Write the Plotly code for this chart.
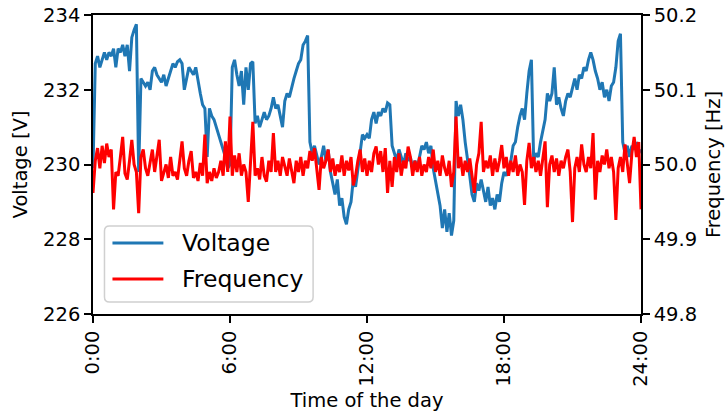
import plotly.graph_objects as go

# Sample times: one reading every 6 minutes over the day (hours)
hours = [m / 60 for m in range(0, 1441, 6)]

# Mains voltage [V]
voltage = [
    229.9, 232.7, 232.9, 232.6, 232.8, 233.0, 232.8, 233.0, 232.9, 233.1,
    232.6, 233.1, 233.0, 233.2, 232.9, 233.2, 232.5, 233.4, 233.6, 233.75,
    229.8, 232.3, 232.2, 232.1, 232.2, 232.0, 232.5, 232.6, 232.4, 232.3,
    232.2, 232.4, 232.1, 232.3, 232.5, 232.7, 232.6, 232.75, 232.8, 232.7,
    232.0, 232.3, 232.6, 232.5, 232.4, 232.6, 232.2, 231.9, 231.6, 231.5,
    230.2, 231.5, 231.3, 231.2, 231.0, 230.8, 230.6, 230.4, 230.2, 229.9,
    230.0, 232.6, 232.8, 232.4, 232.1, 232.5, 231.6, 232.6, 232.0, 232.7,
    232.75, 231.1, 231.3, 231.0, 231.2, 231.4, 231.2, 231.3, 231.5, 231.8,
    231.5, 231.6, 231.3, 231.0, 231.7, 231.9, 231.8, 232.1, 232.3, 232.5,
    232.7, 232.8, 233.2, 233.3, 233.45, 230.6, 230.3, 230.5, 230.2, 230.0,
    230.2, 230.5, 230.1, 230.4, 229.8, 229.5, 229.2, 229.6, 228.9, 229.1,
    228.6, 228.4, 228.8, 229.0, 229.6, 229.4, 229.9, 230.4, 230.8, 230.7,
    230.8, 230.7, 231.2, 231.4, 231.1, 231.4, 231.3, 231.5, 231.4, 231.65,
    231.6, 230.5, 230.3, 230.1, 230.4, 230.2, 230.0, 230.3, 230.1, 230.2,
    229.9, 230.1, 229.9, 230.2, 230.5, 230.4, 230.6, 230.3, 230.5, 229.9,
    229.6, 229.3, 228.9, 228.3, 228.8, 228.2, 228.7, 228.1, 228.5, 231.7,
    231.3, 231.6, 231.2, 230.6, 230.2, 229.7, 229.2, 229.0, 229.5, 229.3,
    229.6, 229.3, 229.0, 229.4, 228.9, 229.1, 228.8, 229.2, 229.0, 229.5,
    229.8, 229.7, 229.9, 230.1, 230.5, 230.6, 231.0, 231.3, 231.5, 231.2,
    231.9, 232.5, 232.8, 230.1, 230.3, 230.2, 230.6, 230.9, 231.2, 231.9,
    231.7, 231.9, 232.6, 231.6, 231.8, 231.5, 231.3, 231.7, 231.9, 231.8,
    232.1, 232.3, 232.0, 232.4, 232.3, 232.6, 232.5, 232.8, 233.0, 232.8,
    232.5, 232.3, 232.0, 232.2, 231.8, 232.0, 231.7, 232.1, 232.2, 232.6,
    233.3, 233.5, 230.6, 230.3, 230.5, 230.2, 230.5, 230.4, 230.6, 230.3,
    230.4,
]

# Grid frequency [Hz]
frequency = [
    49.962, 50.005, 50.022, 49.995, 50.025, 50.002, 50.028, 50.010, 50.020, 49.940,
    49.990, 49.985, 50.010, 50.037, 49.988, 49.980, 50.005, 50.033, 50.000, 49.990,
    49.935, 50.010, 50.020, 49.995, 49.985, 50.004, 50.020, 49.990, 50.012, 50.033,
    49.978, 49.988, 50.000, 49.982, 50.010, 49.985, 49.990, 49.980, 50.005, 50.031,
    49.995, 49.985, 50.005, 50.018, 49.982, 49.990, 49.978, 50.002, 49.985, 50.040,
    49.975, 49.990, 49.978, 49.995, 49.982, 49.990, 50.005, 49.985, 50.031, 49.990,
    50.064, 49.985, 50.012, 49.990, 50.015, 49.985, 50.000, 49.990, 49.950, 50.010,
    50.057, 49.985, 49.995, 49.980, 50.010, 49.985, 49.977, 50.005, 49.990, 50.042,
    49.990, 50.005, 49.985, 50.010, 49.995, 49.985, 50.008, 49.990, 49.975, 50.005,
    49.990, 50.010, 49.985, 50.005, 49.995, 50.018, 50.005, 50.022, 49.990, 49.966,
    50.010, 49.995, 50.005, 50.020, 49.990, 50.008, 49.985, 50.000, 49.990, 50.012,
    49.985, 50.005, 49.992, 50.010, 49.972, 49.985, 50.005, 50.020, 49.990, 50.008,
    49.985, 50.005, 49.990, 50.015, 50.024, 50.000, 50.018, 49.990, 50.022, 49.962,
    50.005, 49.970, 50.010, 49.990, 50.015, 49.985, 50.005, 49.995, 50.024, 50.010,
    49.985, 50.005, 49.990, 50.010, 49.985, 50.000, 49.990, 50.010, 49.995, 50.020,
    49.990, 50.005, 49.985, 50.012, 49.995, 49.985, 50.005, 49.970, 49.990, 50.064,
    49.995, 50.010, 49.985, 50.005, 49.990, 50.008, 49.985, 49.962, 50.000, 50.015,
    50.057, 49.990, 50.005, 49.995, 50.012, 49.985, 50.008, 49.990, 50.005, 50.026,
    49.995, 50.010, 49.985, 50.005, 49.990, 50.012, 49.985, 50.000, 49.990, 49.946,
    50.005, 50.029, 49.995, 50.010, 49.990, 50.005, 49.985, 50.012, 50.031, 49.943,
    50.000, 50.012, 49.990, 50.008, 49.985, 50.005, 49.995, 50.010, 50.020, 49.990,
    49.923, 49.995, 50.010, 49.990, 50.027, 50.000, 49.990, 50.010, 49.995, 50.042,
    49.953, 50.005, 49.990, 50.012, 50.000, 50.020, 49.995, 50.010, 49.990, 49.926,
    49.995, 50.010, 49.990, 50.027, 50.000, 49.975, 50.015, 50.037, 50.010, 50.030,
    49.940,
]

tick_hours = [0, 6, 12, 18, 24]
tick_labels = ["0:00", "6:00", "12:00", "18:00", "24:00"]
volt_ticks = [226, 228, 230, 232, 234]
freq_ticks = [49.8, 49.9, 50.0, 50.1, 50.2]
series_names = ["Voltage", "Frequency"]

FONT = "DejaVu Sans"
BLUE = "#1f77b4"
RED = "#ff0000"
colors = [BLUE, RED]

W, H = 726, 416
ML, MR, MT, MB = 92.5, 84.5, 15, 102
PW, PH = W - ML - MR, H - MT - MB


def px(xp):
    """Horizontal pixel -> paper fraction."""
    return (xp - ML) / PW


def py(yp):
    """Vertical pixel (from top) -> paper fraction."""
    return (H - MB - yp) / PH


fig = go.Figure()
fig.add_trace(go.Scatter(
    x=hours, y=voltage, name=series_names[0], mode="lines",
    line=dict(color=BLUE, width=3), yaxis="y", showlegend=False,
))
fig.add_trace(go.Scatter(
    x=hours, y=frequency, name=series_names[1], mode="lines",
    line=dict(color=RED, width=3), yaxis="y2", showlegend=False,
))

axis_common = dict(
    showline=True, linecolor="black", linewidth=1.6,
    ticks="outside", ticklen=7, tickwidth=1.6, tickcolor="black",
    showgrid=False, zeroline=False, automargin=False,
    tickfont=dict(family=FONT, size=19.5, color="black"),
)

# Legend box with rounded corners, entries drawn as line samples + labels
x0, x1, y0, y1, r = px(104), px(313), py(302), py(226), 5
rx, ry = r / PW, r / PH
box = (
    f"M {x0 + rx},{y1} L {x1 - rx},{y1} Q {x1},{y1} {x1},{y1 - ry} "
    f"L {x1},{y0 + ry} Q {x1},{y0} {x1 - rx},{y0} "
    f"L {x0 + rx},{y0} Q {x0},{y0} {x0},{y0 + ry} "
    f"L {x0},{y1 - ry} Q {x0},{y1} {x0 + rx},{y1} Z"
)
shapes = [dict(
    type="path", path=box, xref="paper", yref="paper",
    fillcolor="rgba(255,255,255,0.8)", line=dict(color="#d0d0d0", width=1.5),
    layer="above",
)]
annotations = []
for k, (name, col) in enumerate(zip(series_names, colors)):
    yc = py(243 + 36 * k)
    shapes.append(dict(
        type="line", xref="paper", yref="paper",
        x0=px(112), x1=px(163), y0=yc, y1=yc,
        line=dict(color=col, width=3), layer="above",
    ))
    annotations.append(dict(
        text=name, xref="paper", yref="paper", x=px(180), y=yc,
        xanchor="left", yanchor="middle", showarrow=False,
        font=dict(family=FONT, size=23.5, color="black"),
    ))

fig.update_layout(
    width=W, height=H,
    margin=dict(l=ML, r=MR, t=MT, b=MB),
    paper_bgcolor="white", plot_bgcolor="white",
    font=dict(family=FONT, color="black"),
    xaxis=dict(
        range=[0, 24], tickvals=tick_hours, ticktext=tick_labels,
        tickangle=-90, mirror=True,
        title=dict(text="Time of the day", font=dict(family=FONT, size=19.5), standoff=8),
        **axis_common,
    ),
    yaxis=dict(
        range=[226, 234], tickvals=volt_ticks,
        title=dict(text="Voltage [V]", font=dict(family=FONT, size=19.5), standoff=10),
        **axis_common,
    ),
    yaxis2=dict(
        range=[49.8, 50.2], tickvals=freq_ticks, tickformat=".1f",
        overlaying="y", side="right",
        title=dict(text="Frequency [Hz]", font=dict(family=FONT, size=19.5), standoff=10),
        **axis_common,
    ),
    shapes=shapes,
    annotations=annotations,
    showlegend=False,
)

fig.write_html("out.html")
